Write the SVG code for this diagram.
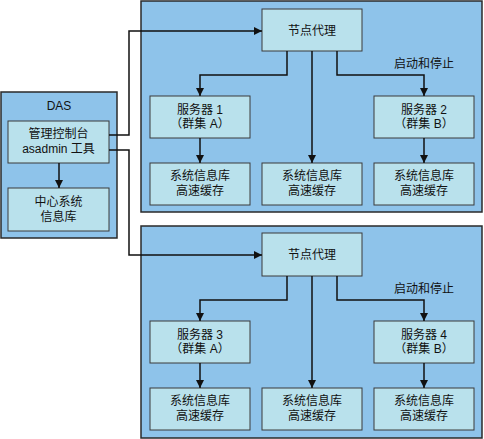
<svg xmlns="http://www.w3.org/2000/svg" width="484" height="439" viewBox="0 0 484 439">
<defs>
<marker id="ah" viewBox="0 0 10 10" refX="10" refY="5" markerWidth="8" markerHeight="8" markerUnits="userSpaceOnUse" orient="auto">
<path d="M0,0 L10,5 L0,10 z" fill="#111"/>
</marker>
</defs>
<style>
.panel{fill:#8ec3ea;stroke:#2a2a2a;stroke-width:1.5}
.box{fill:#b9e1ec;stroke:#3a3a3a;stroke-width:1}
text{font-family:"Liberation Sans","Noto Sans CJK SC",sans-serif;font-size:12px;fill:#111;text-anchor:middle}
.c{fill:none;stroke:#111;stroke-width:1.5}
.ca{fill:none;stroke:#111;stroke-width:1.5;marker-end:url(#ah)}
</style>
<rect width="484" height="439" fill="#ffffff"/>
<g id="das">
<rect class="panel" x="1" y="92" width="116" height="146"/>
<text x="59" y="110">DAS</text>
</g>
<g id="panel1"><rect class="panel" x="141" y="1" width="341" height="211"/></g>
<g id="panel2"><rect class="panel" x="141" y="226" width="341" height="212"/></g>
<g id="console"><rect class="box" x="8" y="121" width="101" height="42"/><text x="58.5" y="138">管理控制台</text><text x="58.5" y="153">asadmin 工具</text></g>
<g id="repo"><rect class="box" x="8" y="188" width="101" height="43"/><text x="58.5" y="206">中心系统</text><text x="58.5" y="221">信息库</text></g>
<g id="agent1"><rect class="box" x="262" y="9" width="100" height="42"/><text x="312" y="34.5">节点代理</text></g>
<g id="server1"><rect class="box" x="150" y="96" width="100" height="42"/><text x="200" y="113.5">服务器 1</text><text x="200" y="128">（群集 A）</text></g>
<g id="server2"><rect class="box" x="374" y="96" width="100" height="42"/><text x="424" y="113.5">服务器 2</text><text x="424" y="128">（群集 B）</text></g>
<g id="cache1a"><rect class="box" x="150" y="163" width="100" height="42"/><text x="200" y="179.5">系统信息库</text><text x="200" y="194.5">高速缓存</text></g>
<g id="cache1b"><rect class="box" x="262" y="163" width="100" height="42"/><text x="312" y="179.5">系统信息库</text><text x="312" y="194.5">高速缓存</text></g>
<g id="cache1c"><rect class="box" x="374" y="163" width="100" height="42"/><text x="424" y="179.5">系统信息库</text><text x="424" y="194.5">高速缓存</text></g>
<g id="agent2"><rect class="box" x="262" y="233" width="100" height="43"/><text x="312" y="259">节点代理</text></g>
<g id="server3"><rect class="box" x="150" y="321" width="100" height="42"/><text x="200" y="338.5">服务器 3</text><text x="200" y="353">（群集 A）</text></g>
<g id="server4"><rect class="box" x="374" y="321" width="100" height="42"/><text x="424" y="338.5">服务器 4</text><text x="424" y="353">（群集 B）</text></g>
<g id="cache2a"><rect class="box" x="150" y="388" width="100" height="42"/><text x="200" y="404.5">系统信息库</text><text x="200" y="419.5">高速缓存</text></g>
<g id="cache2b"><rect class="box" x="262" y="388" width="100" height="42"/><text x="312" y="404.5">系统信息库</text><text x="312" y="419.5">高速缓存</text></g>
<g id="cache2c"><rect class="box" x="374" y="388" width="100" height="42"/><text x="424" y="404.5">系统信息库</text><text x="424" y="419.5">高速缓存</text></g>
<g id="connectors">
<path class="ca" d="M59,163 V188"/>
<path class="ca" d="M109,135 H129 V31 H262"/>
<path class="ca" d="M109,150 H129 V255 H262"/>
<path class="ca" d="M287,51 V75 H200 V96"/>
<path class="ca" d="M312,51 V163"/>
<path class="ca" d="M337,51 V75 H424 V96"/>
<path class="ca" d="M200,138 V163"/>
<path class="ca" d="M424,138 V163"/>
<text x="424" y="68">启动和停止</text>
<path class="ca" d="M287,276 V300 H200 V321"/>
<path class="ca" d="M312,276 V388"/>
<path class="ca" d="M337,276 V300 H424 V321"/>
<path class="ca" d="M200,363 V388"/>
<path class="ca" d="M424,363 V388"/>
<text x="424" y="293">启动和停止</text>
</g>
</svg>
